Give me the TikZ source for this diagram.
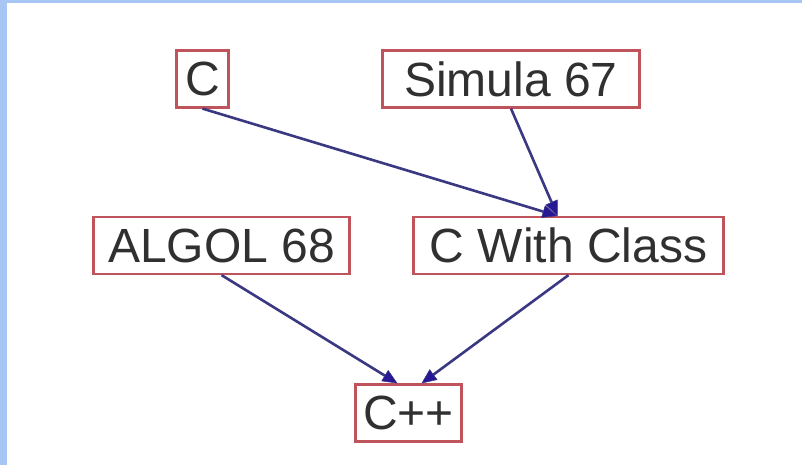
\documentclass[tikz,border=0pt]{standalone}
\usepackage{fontspec}
\setmainfont{Liberation Sans}
\usetikzlibrary{arrows.meta}
\definecolor{framebg}{RGB}{168,198,244}
\definecolor{boxline}{RGB}{192,84,92}
\definecolor{edgeline}{RGB}{58,56,130}
\definecolor{tipfill}{RGB}{40,24,150}
\definecolor{labeltext}{RGB}{48,48,48}
\tikzset{
  lang/.style={draw=boxline, line width=2.2pt, inner sep=0pt, minimum height=57pt,
    text=labeltext, font=\fontsize{48}{50}\selectfont},
  dep/.style={draw=edgeline, line width=2.6pt,
    -{Triangle[length=15pt,width=13pt,fill=tipfill,line width=0.5pt]}}
}
\begin{document}
\begin{tikzpicture}[x=1pt,y=-1pt]
      \fill[framebg] (0,0) rectangle (802,465);
      \fill[white] (7,3) rectangle (802,465);
      \useasboundingbox (0,0) rectangle (802,465);
      \draw
        (202.5,79) node[lang, minimum width=52pt] (c){C}
        (511,79) node[lang, minimum width=257pt] (simula){Simula 67}
        (221.5,245.5) node[lang, minimum width=256pt] (algol){ALGOL 68}
        (568.5,245.5) node[lang, minimum width=310pt] (cwc){C With Class}
        (408.5,413) node[lang, minimum width=106pt] (cpp){C++};
      \begin{scope}[dep]
        \draw (c.south) to ([xshift=-11pt]cwc.north);
        \draw (simula.south) to ([xshift=-11pt]cwc.north);
        \draw (algol.south) to ([xshift=-11pt]cpp.north);
        \draw (cwc.south) to ([xshift=13pt]cpp.north);
      \end{scope}
    \end{tikzpicture}
\end{document}
